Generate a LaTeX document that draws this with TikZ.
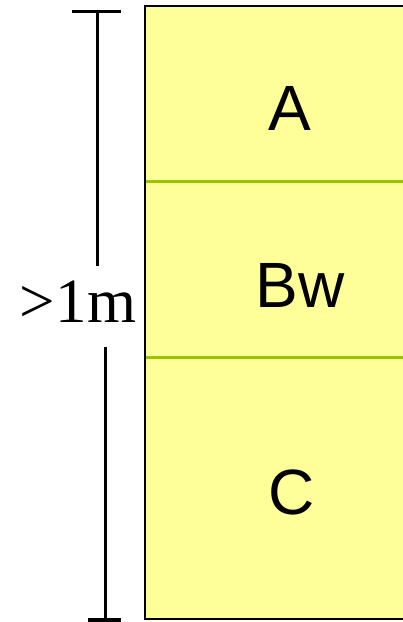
\documentclass[tikz,border=0pt]{standalone}
\usepackage{fontspec}
\setmainfont{Liberation Serif}
\newfontfamily\arialfont{Liberation Sans}
\definecolor{soilyellow}{RGB}{255,255,153}
\definecolor{soilgreen}{RGB}{153,196,0}
\begin{document}
\begin{tikzpicture}[x=1pt,y=1pt,
  layertext/.style={font=\arialfont\fontsize{64}{64}\selectfont, inner sep=0pt, anchor=center},
  dimline/.style={line width=3pt, black},
  border/.style={line width=2.8pt, black},
  boundary/.style={line width=3pt, soilgreen}]
\useasboundingbox (0,0) rectangle (403,622);
% box
\fill[soilyellow] (145,3) rectangle (403,616);
\draw[boundary] (146,440) -- (403,440);
\draw[boundary] (146,264) -- (403,264);
\draw[border] (403,616) -- (145,616) -- (145,3) -- (403,3);
% layer labels
\node[layertext] (A) at (290,514) {A};
\node[layertext] (Bw) at (300,337) {Bw};
\node[layertext] (C) at (292,130) {C};
% dimension
\coordinate (tl) at (72,610);
\coordinate (tr) at (121,610);
\coordinate (tm) at (97,610);
\coordinate (ue) at (97,356);
\coordinate (ls) at (105,275);
\coordinate (bm) at (105,2);
\coordinate (bl) at (88,2);
\coordinate (br) at (121,2);
\draw[dimline] (tl) -- (tr);
\draw[dimline] (tm) -- (ue);
\draw[dimline] (ls) -- (bm);
\draw[dimline] (bl) -- (br);
\node[font=\fontsize{63}{63}\selectfont, inner sep=0pt, anchor=base] (dim) at (78,299) {>1m};
\end{tikzpicture}
\end{document}
